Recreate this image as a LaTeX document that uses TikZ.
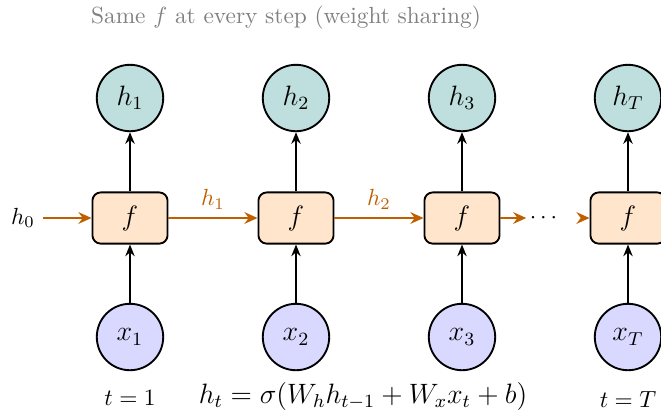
\documentclass[tikz,border=0pt]{standalone}
\usetikzlibrary{arrows.meta}
\definecolor{rnnorange}{RGB}{191,96,0}
\begin{document}
\begin{tikzpicture}[x=0.4283pt,y=-0.4283pt,
  cell/.style={draw=black, thick, fill=orange!20, rounded corners=3.5pt, minimum width=1.13cm, minimum height=0.77cm, font=\large},
  hid/.style={circle, draw, thick, fill=teal!25, minimum size=1cm, inner sep=0pt, font=\large},
  inp/.style={circle, draw, thick, fill=blue!15, minimum size=1cm, inner sep=0pt, font=\large},
  varrow/.style={thick, -{Stealth[length=5pt,width=4pt]}},
  harrow/.style={thick, draw=rnnorange, -{Stealth[length=5.6pt,width=5pt]}},
  hlab/.style={text=rnnorange},
]
\useasboundingbox (0,0) rectangle (661,410);
\node[text=gray] (cap) at (286,18) {Same $f$ at every step (weight sharing)};
% hidden outputs
\node[hid] (h1) at (130,98) {$h_1$};
\node[hid] (h2) at (296,98) {$h_2$};
\node[hid] (h3) at (462,98) {$h_3$};
\node[hid] (hT) at (628,98) {$h_T$};
% cells
\node[cell] (f1) at (130,218) {$f$};
\node[cell] (f2) at (296,218) {$f$};
\node[cell] (f3) at (462,218) {$f$};
\node[cell] (fT) at (628,218) {$f$};
% inputs
\node[inp] (x1) at (130,337) {$x_1$};
\node[inp] (x2) at (296,337) {$x_2$};
\node[inp] (x3) at (462,337) {$x_3$};
\node[inp] (xT) at (628,337) {$x_T$};
% misc
\node (h0) at (23,218) {$h_0$};
\node (dots) at (543.5,218) {$\cdots$};
% vertical arrows
\foreach \i in {1,2,3,T}{
  \draw[varrow] (x\i) -- (f\i);
  \draw[varrow] (f\i) -- (h\i);
}
% horizontal arrows
\draw[harrow] (h0) -- (f1);
\draw[harrow] (f1) -- node[hlab, above] {$h_1$} (f2);
\draw[harrow] (f2) -- node[hlab, above] {$h_2$} (f3);
\draw[harrow] (f3) -- ([xshift=2]dots.west);
\draw[harrow] ([xshift=9]dots.east) -- (fT);
% bottom labels
\node (t1) at (130,398) {$t=1$};
\node[font=\large] (eq) at (363,396) {$h_t=\sigma(W_h h_{t-1}+W_x x_t+b)$};
\node (tT) at (628,400) {$t=T$};
\end{tikzpicture}
\end{document}
